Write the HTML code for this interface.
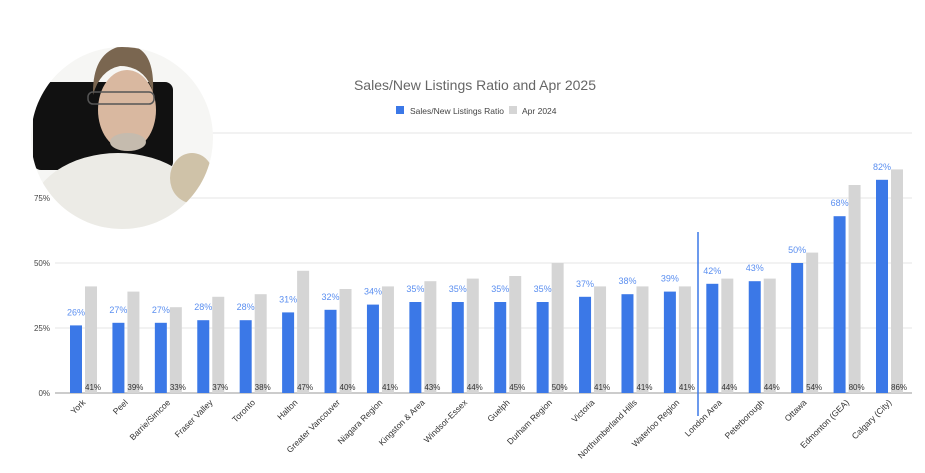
<!DOCTYPE html>
<html><head><meta charset="utf-8"><style>
body{margin:0;background:#fff;}
svg{display:block;font-family:"Liberation Sans",Arial,sans-serif;}
</style></head><body>
<svg id="chart" width="925" height="473" viewBox="0 0 925 473">
<text x="475" y="90" text-anchor="middle" font-size="14" fill="#666">Sales/New Listings Ratio and Apr 2025</text>
<g>
<rect x="396" y="106" width="8" height="8" fill="#3b78e7"/>
<text x="410" y="114" font-size="8.5" fill="#444">Sales/New Listings Ratio</text>
<rect x="509" y="106" width="8" height="8" fill="#d5d5d5"/>
<text x="522" y="114" font-size="8.5" fill="#444">Apr 2024</text>
</g>
<g id="grid"></g>
<g id="bars"></g>
<g id="labels"></g>
<line x1="698" y1="232" x2="698" y2="416" stroke="#3b78e7" stroke-width="1.5"/>
<defs><clipPath id="cam"><circle cx="122" cy="138" r="91"/></clipPath></defs>
<g clip-path="url(#cam)">
<rect x="25" y="40" width="200" height="200" fill="#f6f6f4"/>
<rect x="33" y="82" width="140" height="88" rx="8" fill="#111"/>
<ellipse cx="118" cy="215" rx="88" ry="62" fill="#ecebe6"/>
<ellipse cx="127" cy="110" rx="29" ry="40" fill="#d9b8a0"/>
<path d="M93 95 Q92 48 128 45 Q155 48 153 92 Q145 66 120 66 Q100 70 93 95 Z" fill="#7a6650"/>
<ellipse cx="128" cy="142" rx="18" ry="9" fill="#c5bbae"/>
<rect x="88" y="92" width="66" height="12" rx="5" fill="none" stroke="#555" stroke-width="1.5"/>
<ellipse cx="192" cy="178" rx="22" ry="25" fill="#cfc2a8"/>
</g>
<script>
const categories=["York","Peel","Barrie/Simcoe","Fraser Valley","Toronto","Halton","Greater Vancouver","Niagara Region","Kingston & Area","Windsor-Essex","Guelph","Durham Region","Victoria","Northumberland Hills","Waterloo Region","London Area","Peterborough","Ottawa","Edmonton (GEA)","Calgary (City)"];
const ratioValues=[26,27,27,28,28,31,32,34,35,35,35,35,37,38,39,42,43,50,68,82];
const apr2024Values=[41,39,33,37,38,47,40,41,43,44,45,50,41,41,41,44,44,54,80,86];
const yTicks=[0,25,50,75,100];
const yTickLabels=["0%","25%","50%","75%",""];
const NS="http://www.w3.org/2000/svg";
const y0=393,yScale=2.6;
function y(v){return y0-v*yScale;}
function xc(i){return 84+i*(890-84)/(categories.length-1);}
function mk(tag,attrs,parent){const e=document.createElementNS(NS,tag);for(const k in attrs)e.setAttribute(k,attrs[k]);parent.appendChild(e);return e;}
const grid=document.getElementById('grid'),bars=document.getElementById('bars'),labels=document.getElementById('labels');
yTicks.forEach((t,i)=>{
 const l=mk('line',{x1:55,x2:912,y1:y(t),y2:y(t),stroke:t===0?'#999':'#e6e6e6','stroke-width':1},grid);
 
 
 const tx=mk('text',{x:50,y:y(t)+3,'text-anchor':'end','font-size':8,fill:'#444'},grid);
 tx.textContent=yTickLabels[i];
 
 
});
categories.forEach((c,i)=>{
 const cx=xc(i);
 const b=mk('rect',{x:cx-14,y:y(ratioValues[i]),width:12,height:ratioValues[i]*yScale,fill:'#3b78e7'},bars);
 
 
 const g=mk('rect',{x:cx+1,y:y(apr2024Values[i]),width:12,height:apr2024Values[i]*yScale,fill:'#d5d5d5'},bars);
 
 
 const bl=mk('text',{x:cx-8,y:y(ratioValues[i])-10,'text-anchor':'middle','font-size':9,fill:'#5b8ff0'},labels);
 bl.textContent=ratioValues[i]+'%';
 
 
 const gl=mk('text',{x:cx+1,y:y0-3,'font-size':8,fill:'#333'},labels);
 gl.textContent=apr2024Values[i]+'%';
 
 
 const xl=mk('text',{x:cx+2,y:y0+10,'text-anchor':'end','font-size':8.5,fill:'#333',transform:`rotate(-45 ${cx+2} ${y0+10})`},labels);
 xl.textContent=c;
 
 
});
</script>
</svg>
</body></html>
